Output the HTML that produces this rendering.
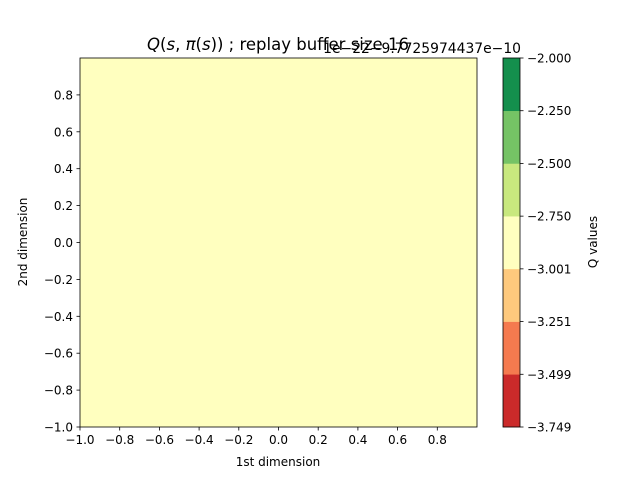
<!DOCTYPE html>
<html><head><meta charset="utf-8"><style>
body{margin:0;background:#fff}
svg{display:block;font-family:"DejaVu Sans","Liberation Sans",sans-serif}
</style></head><body>
<svg id="c" width="640" height="480" viewBox="0 0 640 480">
<rect width="640" height="480" fill="#fff"/>
<rect x="80" y="58" width="397" height="369" fill="#ffffbf" stroke="none"/>
<g id="ax"></g>
<rect x="80" y="58" width="397" height="369" fill="none" stroke="#000" stroke-width="0.8"/>
<text x="278" y="50" font-size="16.5" text-anchor="middle"><tspan font-style="italic">Q</tspan>(<tspan font-style="italic">s</tspan>, <tspan font-style="italic">π</tspan>(<tspan font-style="italic">s</tspan>)) ; replay buffer size 16</text>
<text x="521" y="53" font-size="13.9" text-anchor="end">1e−22−9.7725974437e−10</text>
<text x="278" y="466" font-size="12" text-anchor="middle">1st dimension</text>
<text x="27" y="242" font-size="12" text-anchor="middle" transform="rotate(-90 27 242)">2nd dimension</text>
<text x="597" y="242" font-size="12" text-anchor="middle" transform="rotate(-90 597 242)">Q values</text>
<g id="cb"></g>
</svg>
<script>
const xTicks=[-1.0,-0.8,-0.6,-0.4,-0.2,0.0,0.2,0.4,0.6,0.8];
const yTicks=[-1.0,-0.8,-0.6,-0.4,-0.2,0.0,0.2,0.4,0.6,0.8];
const cbLabels=["-3.749","-3.499","-3.251","-3.001","-2.750","-2.500","-2.250","-2.000"];
const cbColors=["#cb2a2a","#f57a4f","#fec97d","#ffffbf","#c8e87e","#75c365","#148f4d"];
const NS="http://www.w3.org/2000/svg";
const ax=document.getElementById('ax'),cb=document.getElementById('cb');
const X=v=>80+(v+1)/2*397, Y=v=>427-(v+1)/2*369;
function mk(p,t,a){const e=document.createElementNS(NS,t);for(const k in a)e.setAttribute(k,a[k]);p.appendChild(e);return e;}
const fmt=v=>(v<0?"−":"")+Math.abs(v).toFixed(1);
xTicks.forEach(v=>{const x=X(v);
 const l=mk(ax,'line',{x1:x,x2:x,y1:427,y2:430.5,stroke:'#000','stroke-width':0.8});
 
 
 const t=mk(ax,'text',{x:x,y:444,'font-size':12,'text-anchor':'middle'});t.textContent=fmt(v);
 
 });
yTicks.forEach(v=>{const y=Y(v);
 const l=mk(ax,'line',{x1:76.5,x2:80,y1:y,y2:y,stroke:'#000','stroke-width':0.8});
 
 
 const t=mk(ax,'text',{x:73,y:y+4.5,'font-size':12,'text-anchor':'end'});t.textContent=fmt(v);
 
 });
const n=cbColors.length,h=369/n;
cbColors.forEach((c,i)=>{const r=mk(cb,'rect',{x:503,y:427-(i+1)*h,width:17,height:h+0.3,fill:c});
 
 });
mk(cb,'rect',{x:503,y:58,width:17,height:369,fill:'none',stroke:'#000','stroke-width':0.8});
cbLabels.forEach((s,i)=>{const y=427-i*h;
 const l=mk(cb,'line',{x1:520,x2:523.5,y1:y,y2:y,stroke:'#000','stroke-width':0.8});
 
 
 const t=mk(cb,'text',{x:527,y:y+4.5,'font-size':12});t.textContent=s.replace('-','−');
 
 });
</script>
</body></html>
